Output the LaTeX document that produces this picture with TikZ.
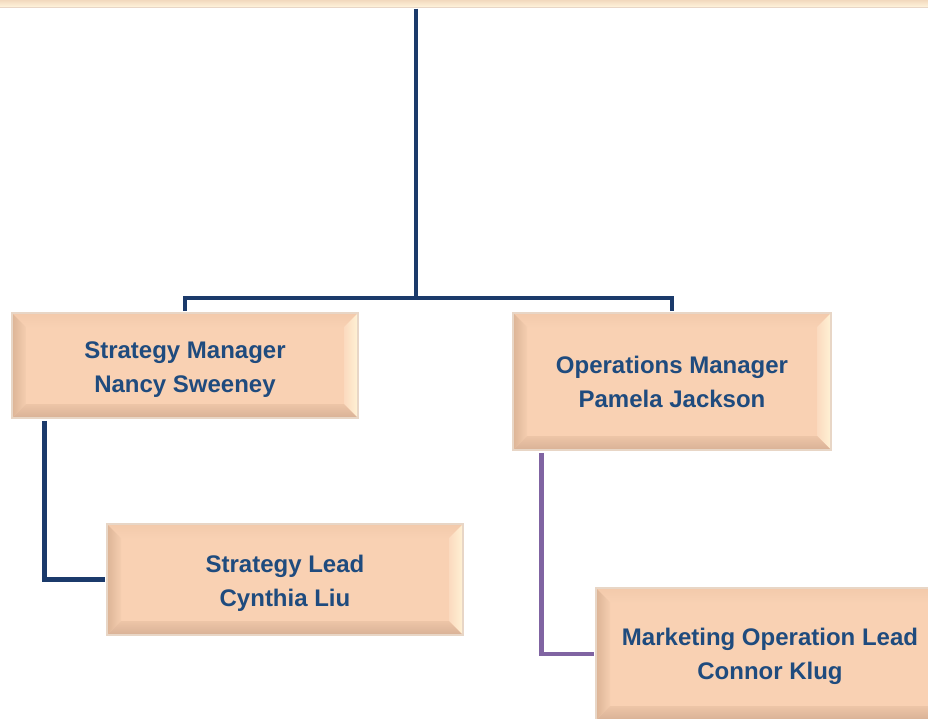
\documentclass[tikz,border=0pt]{standalone}
\usepackage{fontspec}
\setmainfont{Liberation Sans}
\usetikzlibrary{calc}
\definecolor{navy}{HTML}{1B3A6B}
\definecolor{lilac}{HTML}{8064A2}
\definecolor{txt}{HTML}{1F4B7E}
\definecolor{boxfill}{HTML}{F9D1B3}
\definecolor{boxedge}{HTML}{E8D6C6}
\definecolor{F3CAAB}{HTML}{F3CAAB}
\definecolor{F8D1B3}{HTML}{F8D1B3}
\definecolor{DCB496}{HTML}{DCB496}
\definecolor{F5CEB0}{HTML}{F5CEB0}
\definecolor{FBDABF}{HTML}{FBDABF}
\definecolor{FFF2D5}{HTML}{FFF2D5}
\definecolor{EDC5A7}{HTML}{EDC5A7}
\definecolor{D8B196}{HTML}{D8B196}
\definecolor{topA}{HTML}{E6BEA0}
\definecolor{topB}{HTML}{FFF4DC}
\newcommand{\bw}{14pt}
\newcommand{\lowertxt}[1]{\rule{0pt}{#1}}
\tikzset{
  bevelbox/.style={draw=boxedge, line width=1.5pt, fill=boxfill, align=center,
    text=txt, font=\bfseries\fontsize{24}{34}\selectfont, inner sep=0pt,
    path picture={
      \path (path picture bounding box.north west) coordinate (pNW)
            (path picture bounding box.north east) coordinate (pNE)
            (path picture bounding box.south west) coordinate (pSW)
            (path picture bounding box.south east) coordinate (pSE);
      \path ($(pNW)+(\bw,-\bw)$) coordinate (iNW)
            ($(pNE)+(-\bw,-\bw)$) coordinate (iNE)
            ($(pSW)+(\bw,\bw)$) coordinate (iSW)
            ($(pSE)+(-\bw,\bw)$) coordinate (iSE);
      \shade[top color=F3CAAB, bottom color=F8D1B3] (pNW) -- (pNE) -- (iNE) -- (iNW) -- cycle;
      \shade[left color=DCB496, right color=F5CEB0] (pNW) -- (iNW) -- (iSW) -- (pSW) -- cycle;
      \shade[left color=FBDABF, right color=FFF2D5] (pNE) -- (pSE) -- (iSE) -- (iNE) -- cycle;
      \shade[top color=EDC5A7, bottom color=D8B196] (pSW) -- (iSW) -- (iSE) -- (pSE) -- cycle;
    }},
  topbar/.style={draw=boxedge, line width=1pt, top color=topA, bottom color=topB, inner sep=0pt},
  link/.style={line width=4.5pt, line join=miter},
}
\begin{document}
\begin{tikzpicture}[x=1pt,y=-1pt]
\useasboundingbox (0,0) rectangle (928,718);
\clip (0,0) rectangle (928,718);
\fill[white] (0,0) rectangle (928,718);
% boxes
\node[topbar, minimum width=1100pt, minimum height=14pt] (top) at (416,0) {};
\node[bevelbox, minimum width=346pt, minimum height=105pt] (sm) at (185,365.5) {\lowertxt{24pt}Strategy Manager\\Nancy Sweeney};
\node[bevelbox, minimum width=318pt, minimum height=137pt] (om) at (672,381.5) {Operations Manager\\Pamela Jackson};
\node[bevelbox, minimum width=356pt, minimum height=111pt] (sl) at (285,579.5) {\lowertxt{24pt}Strategy Lead\\Cynthia Liu};
\node[bevelbox, minimum width=348pt, minimum height=132pt] (mol) at (770,654) {\lowertxt{22pt}Marketing Operation Lead\\Connor Klug};
% connectors
\coordinate (j) at (416,298);
\draw[link, navy] ([yshift=-1pt]top.south) -- (j);
\draw[link, navy] (j) -| ([yshift=1pt]sm.north);
\draw[link, navy] (j) -| ([yshift=1pt]om.north);
\draw[link, navy] ([xshift=33pt,yshift=-2pt]sm.south west) |- ([xshift=-1pt]sl.west);
\draw[link, lilac] ([xshift=29pt,yshift=-2pt]om.south west) |- ([xshift=-1pt]mol.west);
\end{tikzpicture}
\end{document}
